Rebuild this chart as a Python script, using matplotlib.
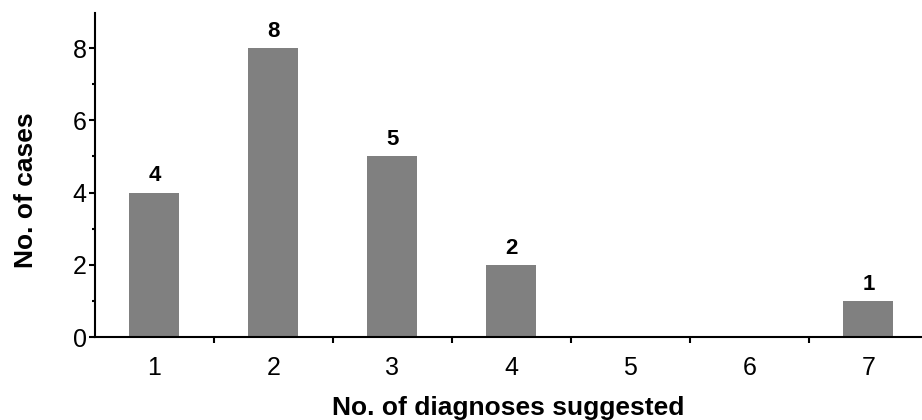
import matplotlib
matplotlib.use("Agg")
import matplotlib.pyplot as plt
from matplotlib.ticker import FixedLocator, NullFormatter

plt.rcParams["font.family"] = ["Liberation Sans", "DejaVu Sans"]

# number of diagnoses suggested -> number of cases
diagnoses = [1, 2, 3, 4, 5, 6, 7]
cases = [4, 8, 5, 2, 0, 0, 1]
bar_labels = ["4", "8", "5", "2", "", "", "1"]

fig = plt.figure(figsize=(9.22, 4.2), dpi=100)
ax = fig.add_axes([0.103, 0.1976, 0.897, 0.7714])

bars = ax.bar(diagnoses, cases, width=0.42, color="#808080", edgecolor="none")
ax.bar_label(bars, labels=bar_labels, padding=4.5, fontsize=16, fontweight="bold")

ax.set_xlim(0.5, 7.45)
ax.set_ylim(0, 8.97)

for side in ("top", "right"):
    ax.spines[side].set_visible(False)
for side in ("left", "bottom"):
    ax.spines[side].set_linewidth(1.5)

# category labels at the bar centres, tick marks between categories
ax.set_xticks(diagnoses)
ax.xaxis.set_minor_locator(FixedLocator([1.5, 2.5, 3.5, 4.5, 5.5, 6.5]))
ax.xaxis.set_minor_formatter(NullFormatter())
ax.tick_params(axis="x", which="major", length=0, pad=13.5, labelsize=18)
ax.tick_params(axis="x", which="minor", length=4.5, width=1.5, direction="out")

ax.set_yticks([0, 2, 4, 6, 8])
ax.yaxis.set_minor_locator(FixedLocator([1, 3, 5, 7]))
ax.tick_params(axis="y", which="major", length=4.5, width=1.5, pad=1.5, labelsize=18)
ax.tick_params(axis="y", which="minor", length=2.5, width=1.5)

ax.set_xlabel("No. of diagnoses suggested", fontsize=19, fontweight="bold")
ax.set_ylabel("No. of cases", fontsize=19, fontweight="bold")
ax.xaxis.set_label_coords(0.5, -0.182)
ax.yaxis.set_label_coords(-0.069, 0.454)

fig.savefig("out.png", dpi=100)
